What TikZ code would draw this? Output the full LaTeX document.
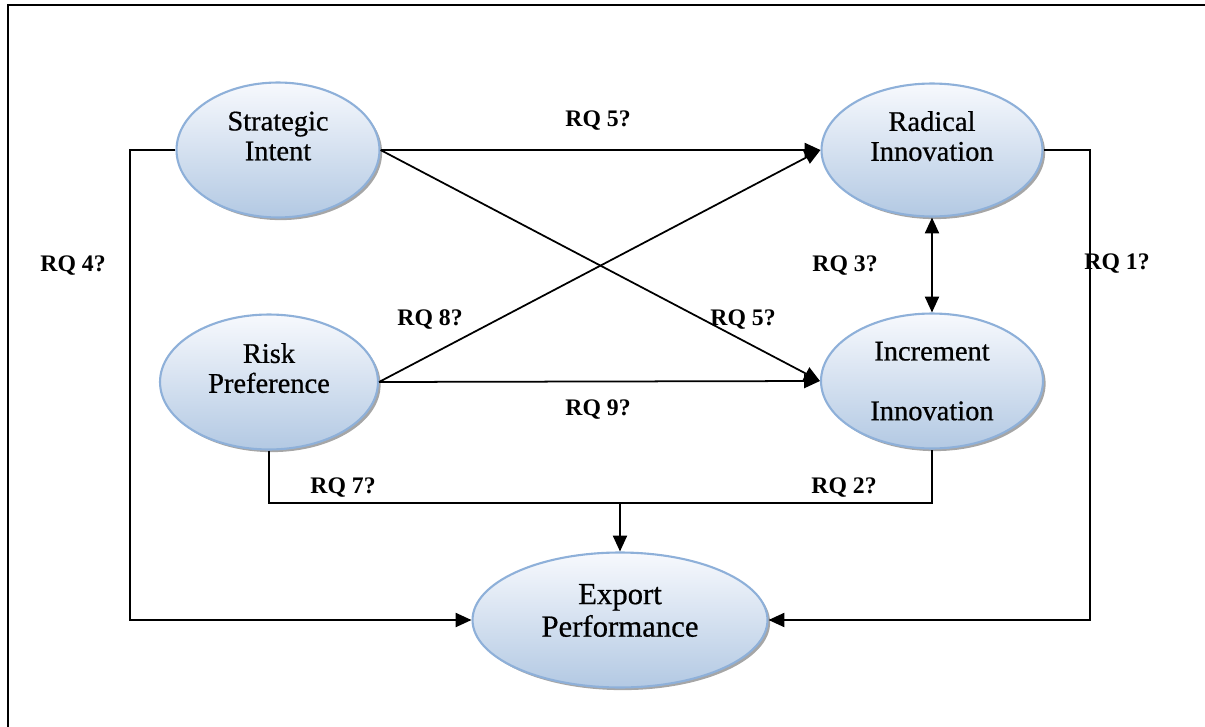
\documentclass[tikz,border=0pt]{standalone}
\usepackage{fontspec}
\setmainfont{Liberation Serif}
\newfontfamily\ovalfont[FakeBold=0.6]{Liberation Serif}
\usetikzlibrary{shapes,arrows.meta,positioning,shadows}

\definecolor{ovalline}{HTML}{8EB0D9}
\definecolor{ovaltop}{HTML}{F7F9FD}
\definecolor{ovalbot}{HTML}{B3C9E3}

\tikzset{
  oval/.style={ellipse, draw=ovalline, line width=1.2pt, top color=ovaltop,
    bottom color=ovalbot, inner sep=0pt, align=center, text depth=16pt,
    font=\ovalfont\fontsize{16.2}{17}\selectfont,
    drop shadow={shadow xshift=1.5pt, shadow yshift=-1.5pt, fill=gray!70, opacity=1}},
  rq/.style={font=\fontsize{13.5}{15}\selectfont\bfseries},
  link/.style={line width=1pt},
  tip/.style={-{Triangle[length=9pt,width=8pt]}}
}

\begin{document}
\begin{tikzpicture}[x=0.02cm, y=-0.02cm, auto]
    \useasboundingbox (0,0) rectangle (1205,727);
    \draw[line width=1.3pt] (8,5) rectangle (1230,750);

    % Nodes
    \node[oval, minimum width=4.06cm, minimum height=2.7cm] (SI) at (278,150) {Strategic\\Intent};
    \node[oval, minimum width=4.42cm, minimum height=2.66cm] (RI) at (932,150) {Radical\\Innovation};
    \node[oval, minimum width=4.36cm, minimum height=2.7cm] (RP) at (269,382) {Risk\\Preference};
    \node[oval, minimum width=4.44cm, minimum height=2.7cm, text depth=-4.5pt] (II) at (932,381) {Increment\\[17pt]Innovation};
    \node[oval, minimum width=5.9cm, minimum height=2.7cm, text depth=11pt,
          font=\ovalfont\fontsize{17.5}{18.5}\selectfont] (EP) at (620,620) {Export\\Performance};

    % Edges
    \draw[link, tip] (SI.east) -- (RI.west);
    \draw[link, tip] (SI.east) -- (II.west);
    \draw[link, tip] (RP.east) -- (RI.west);
    \draw[link, tip] (RP.east) -- (II.west);
    \draw[link, {Triangle[length=9pt,width=8pt]}-{Triangle[length=9pt,width=8pt]}] (RI.south) -- (II.north);
    \draw[link, tip] (SI.west) -- (130,150) |- (EP.west);
    \draw[link, tip] (RI.east) -- (1090,150) |- (EP.east);
    \coordinate (join) at (620,503);
    \draw[link] (RP.south) |- (join) -| (II.south);
    \draw[link, tip] (join) -- (EP.north);

    % Labels
    \node[rq] (rq5a) at (598,121) {RQ 5?};
    \node[rq] (rq5b) at (743,320) {RQ 5?};
    \node[rq] (rq8) at (430,320) {RQ 8?};
    \node[rq] (rq9) at (598,410) {RQ 9?};
    \node[rq] (rq3) at (845,266) {RQ 3?};
    \node[rq] (rq4) at (73,266) {RQ 4?};
    \node[rq] (rq1) at (1117,264) {RQ 1?};
    \node[rq] (rq7) at (343,488) {RQ 7?};
    \node[rq] (rq2) at (844,488) {RQ 2?};
\end{tikzpicture}
\end{document}
